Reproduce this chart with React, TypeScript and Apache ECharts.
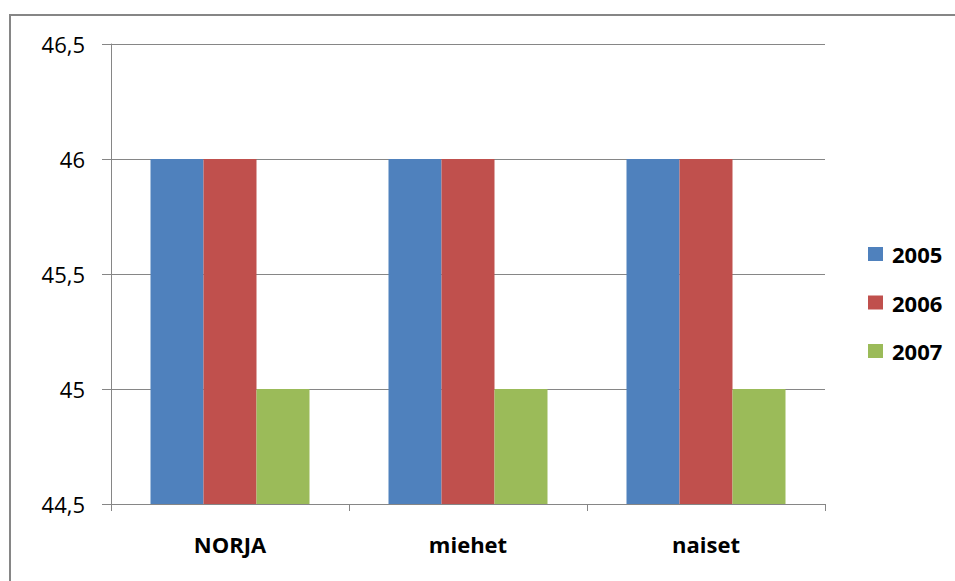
import React, { useEffect, useRef } from "react";
import * as echarts from "echarts";

const categories = ["NORJA", "miehet", "naiset"];
const seriesNames = ["2005", "2006", "2007"];
const values2005 = [46, 46, 46];
const values2006 = [46, 46, 46];
const values2007 = [45, 45, 45];
const colors = ["#4F81BD", "#C0504D", "#9BBB59"];

export default function App() {
  const ref = useRef<HTMLDivElement>(null);
  useEffect(() => {
    document.body.style.margin = "0";
    const chart = echarts.init(ref.current!, null, { renderer: "svg" });
    const font = "'Open Sans', 'Noto Sans', sans-serif";
    const data = [values2005, values2006, values2007];
    chart.setOption({
      animation: false,
      backgroundColor: "#ffffff",
      textStyle: { fontFamily: font },
      grid: { left: 111, top: 44, width: 714, height: 460, containLabel: false },
      legend: {
        orient: "vertical",
        left: 863,
        top: 238,
        itemWidth: 15,
        itemHeight: 14,
        itemGap: 26.5,
        icon: "rect",
        textStyle: {
          fontSize: 22,
          lineHeight: 22,
          fontWeight: "bold",
          color: "#000",
          fontFamily: font,
          padding: [0, 0, 0, 4],
        },
        data: seriesNames,
      },
      xAxis: {
        type: "category",
        data: categories,
        axisLine: { lineStyle: { color: "#868686", width: 1 } },
        axisTick: { show: true, length: 7, alignWithLabel: false, lineStyle: { color: "#868686" } },
        axisLabel: { fontSize: 22, fontWeight: "bold", color: "#000", margin: 29, fontFamily: font },
      },
      yAxis: {
        type: "value",
        min: 44.5,
        max: 46.5,
        interval: 0.5,
        axisLine: { show: true, lineStyle: { color: "#868686", width: 1 } },
        axisTick: { show: true, length: 9, lineStyle: { color: "#868686" } },
        splitLine: { show: true, lineStyle: { color: "#868686", width: 1 } },
        axisLabel: {
          fontSize: 22,
          color: "#000",
          margin: 26,
          fontFamily: font,
          formatter: (v: number) => String(v).replace(".", ","),
        },
      },
      series: seriesNames.map((name, i) => ({
        name,
        type: "bar",
        data: data[i],
        barWidth: 53,
        barGap: "0%",
        barCategoryGap: "33%",
        itemStyle: { color: colors[i] },
      })),
      graphic: [
        {
          type: "rect",
          shape: { x: 10, y: 15, width: 1000, height: 700 },
          style: { fill: "none", stroke: "#868686", lineWidth: 2 },
          silent: true,
          z: 100,
        },
      ],
    });
    return () => chart.dispose();
  }, []);
  return <div ref={ref} style={{ width: 955, height: 581 }} />;
}
